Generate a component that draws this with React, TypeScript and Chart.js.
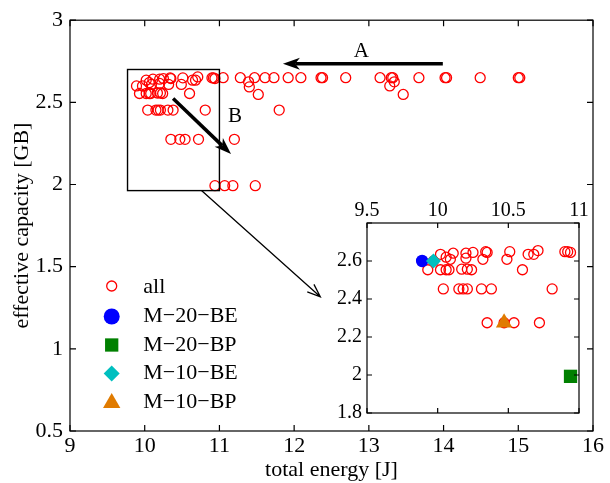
import React, { useEffect, useRef } from 'react';
import { Chart, registerables } from 'chart.js';

Chart.register(...registerables);

const FONT = "'Liberation Serif', 'Times New Roman', serif";

// ---- data: all configurations (total energy [J], effective capacity [GB]) ----
const allEnergy = [
  9.89, 9.97,
  10.02, 10.11, 10.2, 10.25, 10.34, 10.35, 10.51, 10.64, 10.68, 10.71, 10.9, 10.92, 10.94,
  10.06, 10.09, 10.2, 10.32, 10.49,
  9.93, 10.02, 10.06, 10.08, 10.17, 10.21, 10.24, 10.6,
  10.04, 10.15, 10.18, 10.21, 10.31, 10.38, 10.81,
  10.35, 10.47, 10.54, 10.72,
  10.94,
  11.05, 11.28, 11.47, 11.61, 11.73, 11.92, 12.09, 12.36, 12.38, 12.69, 13.15, 13.3, 13.32, 13.67, 14.02, 14.04, 14.49, 15.0, 15.02,
  11.39, 11.4, 11.52, 13.34, 13.28, 13.46,
  11.8, 11.2, 11.07, 11.18, 11.48,
];
const allCapacity = [
  2.6, 2.6,
  2.635, 2.641, 2.641, 2.645, 2.649, 2.645, 2.649, 2.635, 2.635, 2.655, 2.649, 2.649, 2.645,
  2.62, 2.609, 2.615, 2.609, 2.609,
  2.554, 2.554, 2.554, 2.554, 2.557, 2.557, 2.554, 2.554,
  2.453, 2.453, 2.453, 2.453, 2.453, 2.453, 2.453,
  2.275, 2.275, 2.275, 2.275,
  1.993,
  2.65, 2.65, 2.65, 2.65, 2.65, 2.65, 2.65, 2.65, 2.65, 2.65, 2.65, 2.65, 2.65, 2.65, 2.65, 2.65, 2.65, 2.65, 2.65,
  2.625, 2.594, 2.548, 2.625, 2.6, 2.548,
  2.453, 2.275, 1.993, 1.993, 1.993,
];

const m20beEnergy = [9.89];
const m20beCapacity = [2.6];
const m20bpEnergy = [10.94];
const m20bpCapacity = [1.993];
const m10beEnergy = [9.97];
const m10beCapacity = [2.6];
const m10bpEnergy = [10.47];
const m10bpCapacity = [2.275];

const mainXTicks = [9, 10, 11, 12, 13, 14, 15, 16];
const mainXTickLabels = ['9', '10', '11', '12', '13', '14', '15', '16'];
const mainYTicks = [0.5, 1, 1.5, 2, 2.5, 3];
const mainYTickLabels = ['0.5', '1', '1.5', '2', '2.5', '3'];
const insetXTicks = [9.5, 10, 10.5, 11];
const insetXTickLabels = ['9.5', '10', '10.5', '11'];
const insetYTicks = [1.8, 2, 2.2, 2.4, 2.6, 2.8];
const insetYTickLabels = ['1.8', '2', '2.2', '2.4', '2.6', ''];

const legendLabels = ['all', 'M\u221220\u2212BE', 'M\u221220\u2212BP', 'M\u221210\u2212BE', 'M\u221210\u2212BP'];

// annotations in data coordinates
const zoomBoxEnergy = [9.77, 11.0];
const zoomBoxCapacity = [1.963, 2.7];
const arrowAEnergy = [13.99, 11.85];
const arrowACapacity = [2.735, 2.735];
const arrowBEnergy = [10.38, 11.155];
const arrowBCapacity = [2.524, 2.185];
const connectorEnergy = [10.76, 12.35];
const connectorCapacity = [1.963, 1.317];
const labelAPos = [12.9, 2.81];
const labelBPos = [11.21, 2.415];

const RED = '#ff0000';
const BLUE = '#0000ff';
const GREEN = '#008000';
const CYAN = '#00bfbf';
const ORANGE = '#e07b00';

const pts = (xs: number[], ys: number[]) => xs.map((x, i) => ({ x, y: ys[i] }));

function makeAxis(o: any) {
  const horizontal = o.position === 'top' || o.position === 'bottom';
  return {
    type: 'linear',
    position: o.position,
    min: o.min,
    max: o.max,
    afterBuildTicks: (axis: any) => {
      axis.ticks = o.ticks.map((v: number) => ({ value: v }));
    },
    afterFit: (axis: any) => {
      if (horizontal) axis.height = o.size;
      else axis.width = o.size;
    },
    ticks: {
      autoSkip: false,
      maxRotation: 0,
      minRotation: 0,
      padding: o.padding,
      color: '#000',
      font: { family: FONT, size: o.fontSize },
      callback: (_v: any, i: number) => o.labels[i],
    },
    grid: { display: false, drawTicks: false },
    border: { display: false },
    title: o.title
      ? { display: true, text: o.title, color: '#000', font: { family: FONT, size: 22 }, padding: o.titlePadding }
      : { display: false },
  };
}

function drawFrame(chart: any, tickLen: number, xTicks: number[], yTicks: number[]) {
  const { ctx, chartArea } = chart;
  const { left, right, top, bottom } = chartArea;
  const xs = chart.scales.x;
  const ys = chart.scales.y;
  ctx.save();
  ctx.strokeStyle = '#000';
  ctx.lineWidth = 1.2;
  ctx.strokeRect(left, top, right - left, bottom - top);
  ctx.beginPath();
  xTicks.forEach((v) => {
    const px = xs.getPixelForValue(v);
    ctx.moveTo(px, bottom);
    ctx.lineTo(px, bottom - tickLen);
    ctx.moveTo(px, top);
    ctx.lineTo(px, top + tickLen);
  });
  yTicks.forEach((v) => {
    const py = ys.getPixelForValue(v);
    ctx.moveTo(left, py);
    ctx.lineTo(left + tickLen, py);
    ctx.moveTo(right, py);
    ctx.lineTo(right - tickLen, py);
  });
  ctx.stroke();
  ctx.restore();
}

function drawArrow(ctx: any, x0: number, y0: number, x1: number, y1: number, lw: number, headLen: number, headHalf: number, filled: boolean) {
  const ang = Math.atan2(y1 - y0, x1 - x0);
  const c = Math.cos(ang);
  const s = Math.sin(ang);
  const P = (u: number, v: number) => [x1 + u * c - v * s, y1 + u * s + v * c];
  ctx.save();
  ctx.strokeStyle = '#000';
  ctx.fillStyle = '#000';
  ctx.lineWidth = lw;
  if (filled) {
    const notch = P(-headLen * 0.72, 0);
    ctx.beginPath();
    ctx.moveTo(x0, y0);
    ctx.lineTo(notch[0], notch[1]);
    ctx.stroke();
    const a = P(-headLen, headHalf);
    const b = P(-headLen, -headHalf);
    ctx.beginPath();
    ctx.moveTo(x1, y1);
    ctx.lineTo(a[0], a[1]);
    ctx.lineTo(notch[0], notch[1]);
    ctx.lineTo(b[0], b[1]);
    ctx.closePath();
    ctx.fill();
  } else {
    ctx.beginPath();
    ctx.moveTo(x0, y0);
    ctx.lineTo(x1, y1);
    const a = P(-headLen, headHalf);
    const b = P(-headLen, -headHalf);
    ctx.moveTo(a[0], a[1]);
    ctx.lineTo(x1, y1);
    ctx.lineTo(b[0], b[1]);
    ctx.stroke();
  }
  ctx.restore();
}

function drawMarker(ctx: any, style: string, x: number, y: number, r: number, color: string) {
  ctx.save();
  ctx.beginPath();
  if (style === 'open') {
    ctx.arc(x, y, r, 0, Math.PI * 2);
    ctx.strokeStyle = color;
    ctx.lineWidth = 1.3;
    ctx.stroke();
    ctx.restore();
    return;
  }
  if (style === 'circle') {
    ctx.arc(x, y, r, 0, Math.PI * 2);
  } else if (style === 'rect') {
    const h = r * Math.SQRT1_2;
    ctx.rect(x - h, y - h, 2 * h, 2 * h);
  } else if (style === 'rectRot') {
    ctx.moveTo(x, y - r);
    ctx.lineTo(x + r, y);
    ctx.lineTo(x, y + r);
    ctx.lineTo(x - r, y);
    ctx.closePath();
  } else if (style === 'triangle') {
    for (let k = 0; k < 3; k++) {
      const a = -Math.PI / 2 + (k * 2 * Math.PI) / 3;
      const px = x + Math.cos(a) * r;
      const py = y + Math.sin(a) * r;
      if (k === 0) ctx.moveTo(px, py);
      else ctx.lineTo(px, py);
    }
    ctx.closePath();
  }
  ctx.fillStyle = color;
  ctx.fill();
  ctx.restore();
}

const legendStyles = [
  { style: 'open', r: 5, color: RED },
  { style: 'circle', r: 8, color: BLUE },
  { style: 'rect', r: 9.4, color: GREEN },
  { style: 'rectRot', r: 8, color: CYAN },
  { style: 'triangle', r: 10, color: ORANGE },
];
const legendRowOffsets = [145, 114.5, 86, 57.5, 29];

const mainOverlay = {
  id: 'mainOverlay',
  afterDraw(chart: any) {
    const { ctx, chartArea } = chart;
    const xs = chart.scales.x;
    const ys = chart.scales.y;
    drawFrame(chart, 6, mainXTicks, mainYTicks);

    // zoom box
    const bx0 = xs.getPixelForValue(zoomBoxEnergy[0]);
    const bx1 = xs.getPixelForValue(zoomBoxEnergy[1]);
    const by0 = ys.getPixelForValue(zoomBoxCapacity[0]);
    const by1 = ys.getPixelForValue(zoomBoxCapacity[1]);
    ctx.save();
    ctx.strokeStyle = '#000';
    ctx.lineWidth = 1.4;
    ctx.strokeRect(bx0, by1, bx1 - bx0, by0 - by1);
    ctx.restore();

    drawArrow(ctx, xs.getPixelForValue(arrowAEnergy[0]), ys.getPixelForValue(arrowACapacity[0]),
      xs.getPixelForValue(arrowAEnergy[1]), ys.getPixelForValue(arrowACapacity[1]), 3.5, 17, 6, true);
    drawArrow(ctx, xs.getPixelForValue(arrowBEnergy[0]), ys.getPixelForValue(arrowBCapacity[0]),
      xs.getPixelForValue(arrowBEnergy[1]), ys.getPixelForValue(arrowBCapacity[1]), 3.5, 17, 6, true);
    drawArrow(ctx, xs.getPixelForValue(connectorEnergy[0]), ys.getPixelForValue(connectorCapacity[0]),
      xs.getPixelForValue(connectorEnergy[1]), ys.getPixelForValue(connectorCapacity[1]), 1.3, 13, 5, false);

    ctx.save();
    ctx.fillStyle = '#000';
    ctx.font = `21px ${FONT}`;
    ctx.textAlign = 'center';
    ctx.textBaseline = 'middle';
    ctx.fillText('A', xs.getPixelForValue(labelAPos[0]), ys.getPixelForValue(labelAPos[1]));
    ctx.fillText('B', xs.getPixelForValue(labelBPos[0]), ys.getPixelForValue(labelBPos[1]));
    ctx.restore();

    // legend
    const mx = chartArea.left + 41.7;
    const tx = chartArea.left + 73.3;
    legendLabels.forEach((lab, i) => {
      const y = chartArea.bottom - legendRowOffsets[i];
      const st = legendStyles[i];
      drawMarker(ctx, st.style, mx, st.style === 'triangle' ? y + 1 : y, st.r, st.color);
      ctx.save();
      ctx.fillStyle = '#000';
      ctx.font = `22px ${FONT}`;
      ctx.textAlign = 'left';
      ctx.textBaseline = 'middle';
      ctx.fillText(lab, tx, i === 0 ? y + 1 : y);
      ctx.restore();
    });
  },
};

const insetOverlay = {
  id: 'insetOverlay',
  beforeDraw(chart: any) {
    const { ctx, chartArea } = chart;
    ctx.save();
    ctx.fillStyle = '#fff';
    ctx.fillRect(chartArea.left, chartArea.top, chartArea.right - chartArea.left, chartArea.bottom - chartArea.top);
    ctx.restore();
  },
  afterDraw(chart: any) {
    drawFrame(chart, 5, insetXTicks, insetYTicks);
  },
};

export default function App() {
  const mainRef = useRef<HTMLCanvasElement>(null);
  const insetRef = useRef<HTMLCanvasElement>(null);

  useEffect(() => {
    const main = new Chart(mainRef.current as HTMLCanvasElement, {
      type: 'scatter',
      data: {
        datasets: [
          {
            label: legendLabels[0],
            data: pts(allEnergy, allCapacity),
            pointStyle: 'circle',
            pointRadius: 5,
            pointBorderWidth: 1.3,
            pointBorderColor: RED,
            pointBackgroundColor: 'rgba(0,0,0,0)',
            showLine: false,
          } as any,
        ],
      },
      options: {
        animation: false,
        responsive: false,
        devicePixelRatio: 1,
        layout: { padding: { left: 0, top: 18, right: 17, bottom: 0 } },
        plugins: { legend: { display: false }, tooltip: { enabled: false } },
        events: [],
        scales: {
          x: makeAxis({ position: 'bottom', min: 9, max: 16, ticks: mainXTicks, labels: mainXTickLabels, size: 52, fontSize: 22, padding: 2, title: 'total energy [J]', titlePadding: { top: 0, bottom: 0 } }),
          y: makeAxis({ position: 'left', min: 0.5, max: 3, ticks: mainYTicks, labels: mainYTickLabels, size: 70, fontSize: 22, padding: 7, title: 'effective capacity [GB]', titlePadding: { top: 9, bottom: 0 } }),
        } as any,
      },
      plugins: [mainOverlay],
    });

    const inset = new Chart(insetRef.current as HTMLCanvasElement, {
      type: 'scatter',
      data: {
        datasets: [
          { label: legendLabels[1], data: pts(m20beEnergy, m20beCapacity), pointStyle: 'circle', pointRadius: 6.2, pointBorderWidth: 0, pointBackgroundColor: BLUE, order: 1, clip: 0 } as any,
          { label: legendLabels[2], data: pts(m20bpEnergy, m20bpCapacity), pointStyle: 'rect', pointRadius: 9.4, pointBorderWidth: 0, pointBackgroundColor: GREEN, order: 2, clip: 0 } as any,
          { label: legendLabels[3], data: pts(m10beEnergy, m10beCapacity), pointStyle: 'rectRot', pointRadius: 7.5, pointBorderWidth: 0, pointBackgroundColor: CYAN, order: 0, clip: 0 } as any,
          { label: legendLabels[4], data: pts(m10bpEnergy, m10bpCapacity), pointStyle: 'triangle', pointRadius: 9.5, pointBorderWidth: 0, pointBackgroundColor: ORANGE, order: 3, clip: 0 } as any,
          { label: legendLabels[0], data: pts(allEnergy, allCapacity), pointStyle: 'circle', pointRadius: 5, pointBorderWidth: 1.3, pointBorderColor: RED, pointBackgroundColor: 'rgba(0,0,0,0)', order: 10, clip: 0 } as any,
        ],
      },
      options: {
        animation: false,
        responsive: false,
        devicePixelRatio: 1,
        layout: { padding: { left: 0, top: 0, right: 11, bottom: 14 } },
        plugins: { legend: { display: false }, tooltip: { enabled: false } },
        events: [],
        scales: {
          x: makeAxis({ position: 'top', min: 9.5, max: 11, ticks: insetXTicks, labels: insetXTickLabels, size: 33, fontSize: 20, padding: 0 }),
          y: makeAxis({ position: 'left', min: 1.8, max: 2.8, ticks: insetYTicks, labels: insetYTickLabels, size: 47, fontSize: 20, padding: 5 }),
        } as any,
      },
      plugins: [insetOverlay],
    });

    return () => {
      main.destroy();
      inset.destroy();
    };
  }, []);

  return (
    <div style={{ position: 'absolute', left: 0, top: 0, width: 610, height: 483, background: '#fff' }}>
      <canvas ref={mainRef} width={610} height={483} style={{ position: 'absolute', left: 0, top: 0, width: 610, height: 483 }} />
      <canvas ref={insetRef} width={270} height={240} style={{ position: 'absolute', left: 320, top: 190, width: 270, height: 240 }} />
    </div>
  );
}
